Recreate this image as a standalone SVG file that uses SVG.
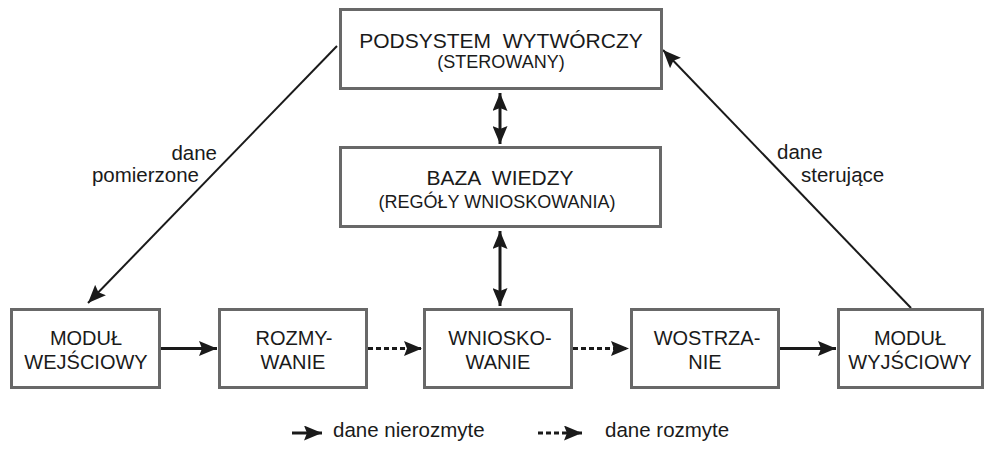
<svg xmlns="http://www.w3.org/2000/svg" width="987" height="459" viewBox="0 0 987 459">
  <style>
    .box { fill: #ffffff; stroke: #686868; stroke-width: 3; }
    .t { font-family: "Liberation Sans", Arial, sans-serif; fill: #1a1a1a; text-anchor: middle; }
    .big { font-size: 21px; }
    .sub { font-size: 18px; }
    .mod { font-size: 20px; }
    .lbl { font-family: "Liberation Sans", Arial, sans-serif; fill: #1a1a1a; font-size: 20.5px; }
    .solid { stroke: #1a1a1a; stroke-width: 3; fill: none; }
    .thin { stroke: #1a1a1a; stroke-width: 2; fill: none; }
    .dash { stroke: #1a1a1a; stroke-width: 3; fill: none; stroke-dasharray: 5 3; }
  </style>
  <defs>
    <marker id="head" markerUnits="userSpaceOnUse" markerWidth="18" markerHeight="15" refX="18" refY="7.5" orient="auto-start-reverse" viewBox="0 0 18 15">
      <path d="M0,0 L18,7.5 L0,15 L3,7.5 z" fill="#1a1a1a"/>
    </marker>
  </defs>

  <rect width="987" height="459" fill="#ffffff"/>

  <g id="connectors">
    <!-- feedback paths through the controlled subsystem -->
    <line class="thin" x1="337" y1="46" x2="88" y2="303" marker-end="url(#head)"/>
    <line class="thin" x1="911" y1="308" x2="663" y2="50" marker-end="url(#head)"/>
    <!-- knowledge base links -->
    <line class="solid" x1="500" y1="93" x2="500" y2="144" marker-start="url(#head)" marker-end="url(#head)"/>
    <line class="solid" x1="500" y1="231" x2="500" y2="306" marker-start="url(#head)" marker-end="url(#head)"/>
    <!-- processing chain -->
    <line class="solid" x1="161" y1="348.5" x2="217" y2="348.5" marker-end="url(#head)"/>
    <line class="dash" x1="368" y1="348.5" x2="422" y2="348.5" marker-end="url(#head)"/>
    <line class="dash" x1="573" y1="348.5" x2="629" y2="348.5" marker-end="url(#head)"/>
    <line class="solid" x1="780" y1="348.5" x2="836" y2="348.5" marker-end="url(#head)"/>
    <!-- labels -->
    <text class="lbl" x="217" y="160" text-anchor="end">dane</text>
    <text class="lbl" x="199" y="182" text-anchor="end">pomierzone</text>
    <text class="lbl" x="777" y="159">dane</text>
    <text class="lbl" x="801" y="182">sterujące</text>
  </g>

  <g id="podsystem">
    <rect class="box" x="340.5" y="9.5" width="321" height="79"/>
    <text class="t big" x="501" y="48" xml:space="preserve">PODSYSTEM  WYTWÓRCZY</text>
    <text class="t sub" x="501" y="68">(STEROWANY)</text>
  </g>

  <g id="baza-wiedzy">
    <rect class="box" x="340.5" y="147.5" width="320" height="79"/>
    <text class="t big" x="500" y="185" xml:space="preserve">BAZA  WIEDZY</text>
    <text class="t sub" x="497" y="208">(REGÓŁY WNIOSKOWANIA)</text>
  </g>

  <g id="modul-wejsciowy">
    <rect class="box" x="11.5" y="309.5" width="148" height="78"/>
    <text class="t mod" x="86" y="345">MODUŁ</text>
    <text class="t mod" x="86" y="369">WEJŚCIOWY</text>
  </g>

  <g id="rozmywanie">
    <rect class="box" x="219.5" y="309.5" width="147" height="78"/>
    <text class="t mod" x="294" y="345">ROZMY-</text>
    <text class="t mod" x="293" y="369">WANIE</text>
  </g>

  <g id="wnioskowanie">
    <rect class="box" x="424.5" y="309.5" width="147" height="78"/>
    <text class="t mod" x="500" y="345">WNIOSKO-</text>
    <text class="t mod" x="498" y="369">WANIE</text>
  </g>

  <g id="wostrzanie">
    <rect class="box" x="631.5" y="309.5" width="147" height="78"/>
    <text class="t mod" x="707" y="345">WOSTRZA-</text>
    <text class="t mod" x="705" y="369">NIE</text>
  </g>

  <g id="modul-wyjsciowy">
    <rect class="box" x="838.5" y="309.5" width="144" height="78"/>
    <text class="t mod" x="910" y="345">MODUŁ</text>
    <text class="t mod" x="910" y="369">WYJŚCIOWY</text>
  </g>

  <g id="legend">
    <line class="solid" x1="292" y1="433" x2="322" y2="433" marker-end="url(#head)"/>
    <text class="lbl" x="333" y="437">dane nierozmyte</text>
    <line class="dash" x1="538" y1="433" x2="582" y2="433" marker-end="url(#head)"/>
    <text class="lbl" x="605" y="437">dane rozmyte</text>
  </g>
</svg>
